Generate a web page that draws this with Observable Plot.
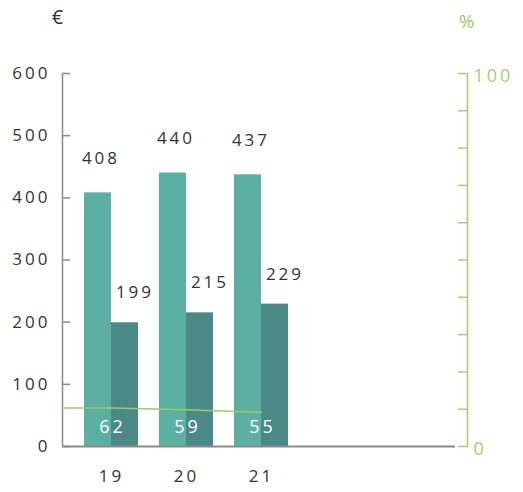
<!DOCTYPE html>
<html><head><meta charset="utf-8">
<script src="https://cdn.jsdelivr.net/npm/d3@7"></script>
<script src="https://cdn.jsdelivr.net/npm/@observablehq/plot@0.6"></script>
<style>
body{margin:0;background:#fff}
svg text{letter-spacing:3px}
</style>
</head><body><div id="chart"></div>
<script>
const years = [19, 20, 21];
const seriesA = [408, 440, 437];
const seriesB = [199, 215, 229];
const ratio = [62, 59, 55];
const leftTicks = [0, 100, 200, 300, 400, 500, 600];
const rightTicks = [0, 10, 20, 30, 40, 50, 60, 70, 80, 90, 100];
const rightLabels = [0, 100];

const rows = years.map((y, i) => ({year: y, a: seriesA[i], b: seriesB[i], r: ratio[i]}));
const xDomain = [18.347, 23.747];
const pctToY = p => p * 6;

const light = "#5cafa3", dark = "#4a8986", green = "#a3cd7a", lineGreen = "#9cc96a", gray = "#8a8a8a", ink = "#333";
const font = "'Open Sans', sans-serif";

const chart = Plot.plot({
  width: 523, height: 492,
  marginTop: 73, marginBottom: 46, marginLeft: 62, marginRight: 56,
  style: {fontFamily: font, background: "#fff"},
  x: {domain: xDomain, axis: null},
  y: {domain: [0, 600], axis: null},
  marks: [
    Plot.rectY(rows, {x1: d => d.year - 0.36, x2: d => d.year, y: "a", fill: light}),
    Plot.rectY(rows, {x1: d => d.year, x2: d => d.year + 0.36, y: "b", fill: dark}),
    Plot.ruleY([0], {stroke: gray, strokeWidth: 2, insetRight: 12}),
    Plot.ruleX([xDomain[0]], {stroke: gray, strokeWidth: 1.5}),
    Plot.axisY(leftTicks, {anchor: "left", label: null, tickSize: -8, tickFormat: () => "", stroke: gray, strokeWidth: 1.5}),
    Plot.axisY(leftTicks, {anchor: "left", label: null, tickSize: 0, tickPadding: 12, fontSize: 17, fill: ink}),
    Plot.ruleX([xDomain[1]], {stroke: green, strokeWidth: 1.5}),
    Plot.axisY(rightTicks.map(pctToY), {anchor: "right", label: null, tickSize: -10, tickFormat: () => "", stroke: green, strokeWidth: 1.5}),
    Plot.axisY(rightLabels.map(pctToY), {anchor: "right", label: null, tickSize: 0, tickPadding: 6, dy: 3, tickFormat: d => String(d / 6), fontSize: 18, fill: green}),
    Plot.axisX(years, {label: null, tickSize: 0, tickPadding: 23, tickFormat: d => String(d), fontSize: 17, fill: ink}),
    Plot.link([rows[0]], {x1: () => xDomain[0], x2: "year", y1: "r", y2: "r", stroke: lineGreen, strokeWidth: 1.5}),
    Plot.lineY(rows, {x: "year", y: "r", stroke: lineGreen, strokeWidth: 1.5}),
    Plot.text(rows, {x: d => d.year - 0.18, y: "a", text: d => String(d.a), dx: 3, dy: -34, fontSize: 17, fill: ink}),
    Plot.text(rows, {x: d => d.year + 0.18, y: "b", text: d => String(d.b), dx: 10, dy: -30, fontSize: 17, fill: ink}),
    Plot.text(rows, {x: "year", y: 0, text: d => String(d.r), dx: 1, dy: -19, fontSize: 18, fill: "#fff"}),
    Plot.text(["€"], {frameAnchor: "top-left", textAnchor: "middle", lineAnchor: "middle", dx: -5, dy: -56, fontSize: 20, fill: ink}),
    Plot.text(["%"], {frameAnchor: "top-right", textAnchor: "middle", lineAnchor: "middle", dx: -1, dy: -52, fontSize: 19, fill: lineGreen})
  ]
});
chart.querySelectorAll("text").forEach(t => { if (t.textContent === "€" || t.textContent === "%") t.style.letterSpacing = "0"; });
document.getElementById("chart").appendChild(chart);
</script>
</body></html>
